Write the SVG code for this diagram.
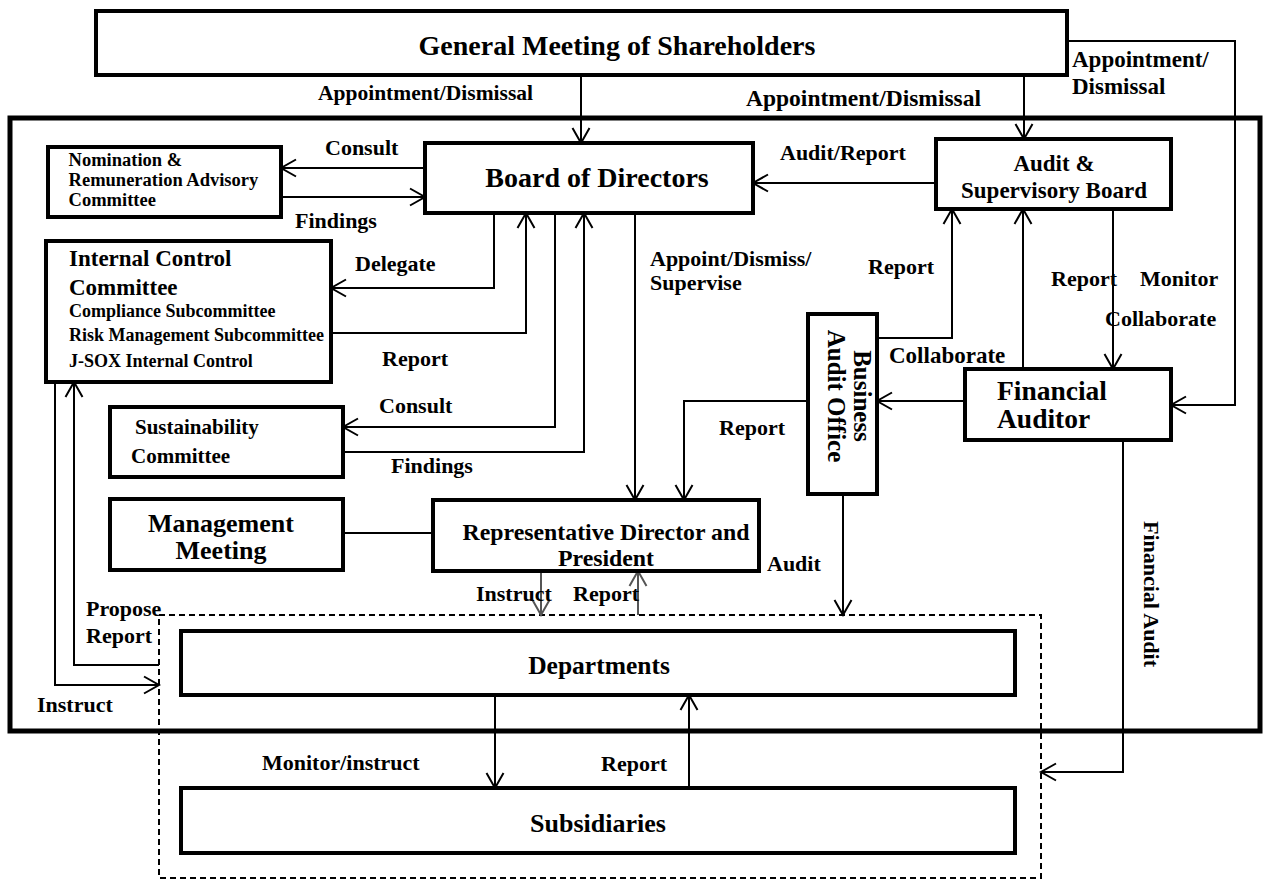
<svg xmlns="http://www.w3.org/2000/svg" width="1267" height="882" viewBox="0 0 1267 882">
<style>
text{font-family:"Liberation Serif","Times New Roman",serif;font-weight:bold;fill:#000;dominant-baseline:central}
.box{fill:#fff;stroke:#000;stroke-width:4}
.lbl{font-size:22px}
.c{text-anchor:middle}
.ln{fill:none;stroke:#000;stroke-width:2}
.gl{fill:none;stroke:#555;stroke-width:2}
</style>
<defs>
<marker id="a" markerUnits="userSpaceOnUse" markerWidth="18" markerHeight="20" viewBox="0 0 18 20" refX="16" refY="10" orient="auto">
<path d="M1,1.5 L16,10 L1,18.5" fill="none" stroke="#000" stroke-width="2"/>
</marker>
<marker id="g" markerUnits="userSpaceOnUse" markerWidth="18" markerHeight="20" viewBox="0 0 18 20" refX="16" refY="10" orient="auto">
<path d="M1,1.5 L16,10 L1,18.5" fill="none" stroke="#555" stroke-width="2"/>
</marker>
</defs>
<rect width="1267" height="882" fill="#fff"/>
<rect id="frame" x="10" y="118" width="1250" height="613" fill="none" stroke="#000" stroke-width="5"/>
<rect id="group" x="159" y="615" width="882" height="263" fill="none" stroke="#000" stroke-width="2" stroke-dasharray="6,4"/>

<g id="connectors">
<path class="ln" d="M581,75 V143" marker-end="url(#a)"/>
<path class="ln" d="M1024,75 V139" marker-end="url(#a)"/>
<path class="ln" d="M1067,41 H1235 V405 H1171" marker-end="url(#a)"/>
<path class="ln" d="M425,168 H281" marker-end="url(#a)"/>
<path class="ln" d="M281,197 H425" marker-end="url(#a)"/>
<path class="ln" d="M936,183 H753" marker-end="url(#a)"/>
<path class="ln" d="M494,213 V288 H331" marker-end="url(#a)"/>
<path class="ln" d="M331,333 H526 V213" marker-end="url(#a)"/>
<path class="ln" d="M555,213 V427 H343" marker-end="url(#a)"/>
<path class="ln" d="M343,452 H584 V213" marker-end="url(#a)"/>
<path class="ln" d="M635,213 V500" marker-end="url(#a)"/>
<path class="ln" d="M877,338 H952 V209" marker-end="url(#a)"/>
<path class="ln" d="M1023,369 V209" marker-end="url(#a)"/>
<path class="ln" d="M1113,209 V369" marker-end="url(#a)"/>
<path class="ln" d="M965,401 H877" marker-end="url(#a)"/>
<path class="ln" d="M808,401 H684 V500" marker-end="url(#a)"/>
<path class="ln" d="M843,494 V615" marker-end="url(#a)"/>
<path class="ln" d="M1123,440 V772 H1041" marker-end="url(#a)"/>
<path class="ln" d="M343,533 H433"/>
<path class="gl" d="M541,571 V615" marker-end="url(#g)"/>
<path class="gl" d="M638,615 V571" marker-end="url(#g)"/>
<path class="ln" d="M159,665 H74 V382" marker-end="url(#a)"/>
<path class="ln" d="M55,382 V685 H159" marker-end="url(#a)"/>
<path class="ln" d="M495,695 V788" marker-end="url(#a)"/>
<path class="ln" d="M689,788 V695" marker-end="url(#a)"/>
</g>

<g id="labels">
<text x="318" y="93" style="font-size:21.5px">Appointment/Dismissal</text>
<text x="746" y="98" style="font-size:23.5px">Appointment/Dismissal</text>
<text x="1072" y="59" style="font-size:23px">Appointment/</text>
<text x="1072" y="86" style="font-size:23px">Dismissal</text>
<text class="lbl" x="325" y="147">Consult</text>
<text class="lbl" x="295" y="220">Findings</text>
<text class="lbl" x="780" y="152">Audit/Report</text>
<text class="lbl" x="355" y="263">Delegate</text>
<text class="lbl" x="382" y="358">Report</text>
<text class="lbl" x="379" y="405">Consult</text>
<text class="lbl" x="391" y="465">Findings</text>
<text class="lbl" x="650" y="258">Appoint/Dismiss/</text>
<text class="lbl" x="650" y="282">Supervise</text>
<text class="lbl" x="868" y="266">Report</text>
<text class="lbl" x="1051" y="278">Report</text>
<text class="lbl" x="1140" y="278">Monitor</text>
<text class="lbl" x="1105" y="318">Collaborate</text>
<text x="889" y="355" style="font-size:23px">Collaborate</text>
<text class="lbl" x="719" y="427">Report</text>
<text class="lbl" x="767" y="563">Audit</text>
<text class="lbl c" transform="translate(1151,594) rotate(90)" x="0" y="0">Financial Audit</text>
<text class="lbl" x="476" y="593">Instruct</text>
<text class="lbl" x="573" y="593">Report</text>
<text class="lbl" x="86" y="608">Propose</text>
<text class="lbl" x="86" y="635">Report</text>
<text class="lbl" x="37" y="704">Instruct</text>
<text class="lbl" x="262" y="762">Monitor/instruct</text>
<text class="lbl" x="601" y="763">Report</text>
</g>

<g id="gm">
<rect class="box" x="96" y="11" width="971" height="64"/>
<text class="c" x="617" y="45" style="font-size:28px">General Meeting of Shareholders</text>
</g>
<g id="board">
<rect class="box" x="425" y="143" width="328" height="70"/>
<text class="c" x="597" y="177" style="font-size:28px">Board of Directors</text>
</g>
<g id="asb">
<rect class="box" x="936" y="139" width="235" height="70"/>
<text class="c" x="1054" y="163" style="font-size:23px">Audit &amp;</text>
<text class="c" x="1054" y="190" style="font-size:23px">Supervisory Board</text>
</g>
<g id="nomination">
<rect class="box" x="48" y="147" width="233" height="70"/>
<text x="68.6" y="160" style="font-size:18.5px">Nomination &amp;</text>
<text x="68.6" y="180" style="font-size:18.5px">Remuneration Advisory</text>
<text x="68.6" y="200" style="font-size:18.5px">Committee</text>
</g>
<g id="icc">
<rect class="box" x="46" y="241" width="285" height="141"/>
<text x="69" y="258" style="font-size:23px">Internal Control</text>
<text x="69" y="287" style="font-size:23px">Committee</text>
<text x="69" y="311" style="font-size:18px">Compliance Subcommittee</text>
<text x="69" y="335" style="font-size:18px">Risk Management Subcommittee</text>
<text x="69" y="361" style="font-size:18px">J-SOX Internal Control</text>
</g>
<g id="sustainability">
<rect class="box" x="110" y="407" width="233" height="70"/>
<text x="135" y="427" style="font-size:21px">Sustainability</text>
<text x="131" y="456" style="font-size:21px">Committee</text>
</g>
<g id="management">
<rect class="box" x="110" y="499" width="233" height="71"/>
<text class="c" x="221" y="523" style="font-size:26px">Management</text>
<text class="c" x="221" y="550" style="font-size:26px">Meeting</text>
</g>
<g id="president">
<rect class="box" x="433" y="500" width="326" height="71"/>
<text class="c" x="606" y="532" style="font-size:23.8px">Representative Director and</text>
<text class="c" x="606" y="558" style="font-size:23.8px">President</text>
</g>
<g id="bao">
<rect class="box" x="808" y="314" width="69" height="180"/>
<g transform="translate(849,396) rotate(90)">
<text class="c" x="0" y="-13" style="font-size:25px">Business</text>
<text class="c" x="0" y="13" style="font-size:25px">Audit Office</text>
</g>
</g>
<g id="fa">
<rect class="box" x="965" y="369" width="206" height="71"/>
<text x="997" y="390" style="font-size:27.5px">Financial</text>
<text x="997" y="418" style="font-size:27.5px">Auditor</text>
</g>
<g id="departments">
<rect class="box" x="181" y="631" width="834" height="64"/>
<text class="c" x="599" y="665" style="font-size:25.5px">Departments</text>
</g>
<g id="subsidiaries">
<rect class="box" x="181" y="788" width="834" height="65"/>
<text class="c" x="598" y="823" style="font-size:26px">Subsidiaries</text>
</g>
</svg>
